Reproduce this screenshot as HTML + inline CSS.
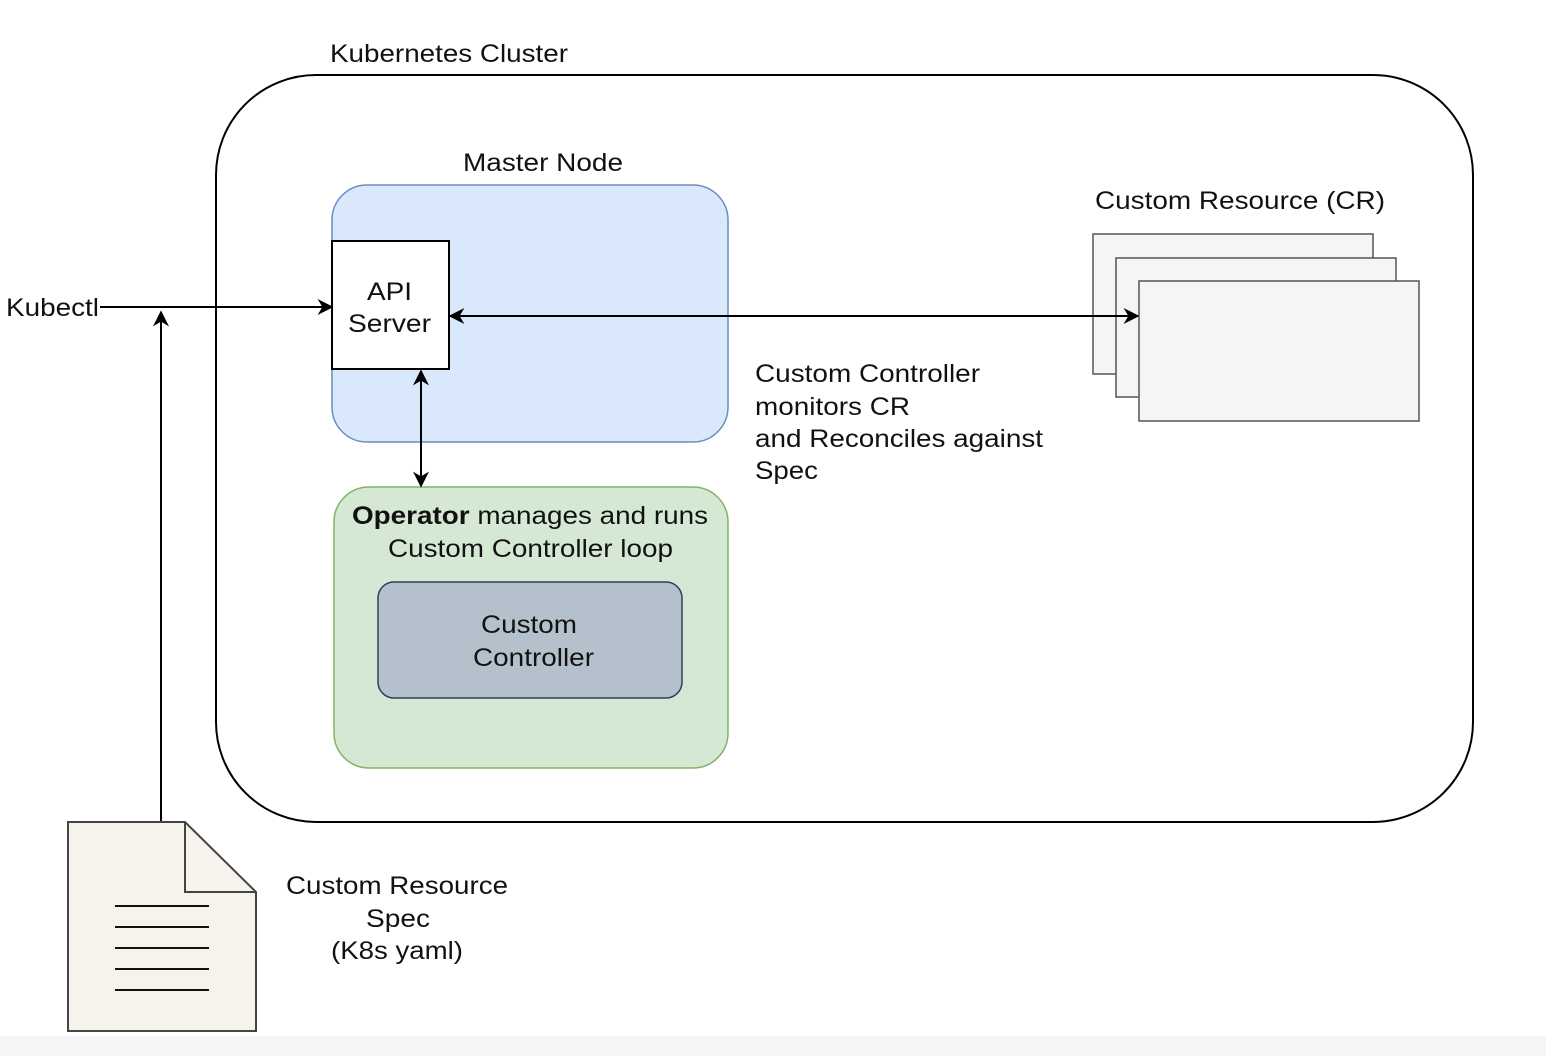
<!DOCTYPE html>
<html><head><style>html,body{margin:0;padding:0;background:#fff}svg{display:block}text{font-family:"Liberation Sans",Arial,sans-serif;font-size:25px;fill:#111}</style></head>
<body>
<svg width="1546" height="1056" viewBox="0 0 1546 1056" xmlns="http://www.w3.org/2000/svg">
<defs>
<marker id="a" viewBox="0 0 10 10" refX="9" refY="5" markerWidth="8" markerHeight="8" orient="auto-start-reverse"><path d="M0,0 L10,5 L0,10 L3,5z" fill="#000"/></marker>
</defs>
<rect x="0" y="1036" width="1546" height="20" fill="#f6f6f6"/>
<text x="330" y="62" textLength="238" lengthAdjust="spacingAndGlyphs">Kubernetes Cluster</text>
<rect x="216" y="75" width="1257" height="747" rx="100" fill="none" stroke="#000" stroke-width="2"/>
<text x="463" y="171" textLength="160" lengthAdjust="spacingAndGlyphs">Master Node</text>
<rect x="332" y="185" width="396" height="257" rx="35" fill="#dae8fc" stroke="#6c8ebf" stroke-width="1.5"/>
<rect x="334" y="487" width="394" height="281" rx="35" fill="#d5e8d4" stroke="#82b366" stroke-width="1.5"/>
<text x="352" y="524" textLength="356" lengthAdjust="spacingAndGlyphs"><tspan font-weight="bold">Operator</tspan> manages and runs</text>
<text x="388" y="557" textLength="285" lengthAdjust="spacingAndGlyphs">Custom Controller loop</text>
<rect x="378" y="582" width="304" height="116" rx="16" fill="#b4c1cc" stroke="#23445d" stroke-width="1.5"/>
<text x="481" y="633" textLength="96" lengthAdjust="spacingAndGlyphs">Custom</text>
<text x="473" y="666" textLength="121" lengthAdjust="spacingAndGlyphs">Controller</text>
<rect x="332" y="241" width="117" height="128" fill="#fff" stroke="#000" stroke-width="2"/>
<text x="367" y="300" textLength="45" lengthAdjust="spacingAndGlyphs">API</text>
<text x="348" y="332" textLength="83" lengthAdjust="spacingAndGlyphs">Server</text>
<text x="1095" y="209" textLength="290" lengthAdjust="spacingAndGlyphs">Custom Resource (CR)</text>
<rect x="1093" y="234" width="280" height="140" fill="#f5f5f5" stroke="#555" stroke-width="1.5"/>
<rect x="1116" y="258" width="280" height="139" fill="#f5f5f5" stroke="#555" stroke-width="1.5"/>
<rect x="1139" y="281" width="280" height="140" fill="#f5f5f5" stroke="#555" stroke-width="1.5"/>
<text x="755" y="382" textLength="225" lengthAdjust="spacingAndGlyphs">Custom Controller</text>
<text x="755" y="415" textLength="155" lengthAdjust="spacingAndGlyphs">monitors CR</text>
<text x="755" y="447" textLength="288" lengthAdjust="spacingAndGlyphs">and Reconciles against</text>
<text x="755" y="479" textLength="63" lengthAdjust="spacingAndGlyphs">Spec</text>
<text x="6" y="316" textLength="93" lengthAdjust="spacingAndGlyphs">Kubectl</text>
<line x1="100" y1="307" x2="332" y2="307" stroke="#000" stroke-width="2" marker-end="url(#a)"/>
<line x1="161" y1="822" x2="161" y2="312" stroke="#000" stroke-width="2" marker-end="url(#a)"/>
<line x1="450" y1="316" x2="1138" y2="316" stroke="#000" stroke-width="2" marker-start="url(#a)" marker-end="url(#a)"/>
<line x1="421" y1="371" x2="421" y2="486" stroke="#000" stroke-width="2" marker-start="url(#a)" marker-end="url(#a)"/>
<path d="M68,822 H185 L256,892 V1031 H68 Z" fill="#f5f3eb" stroke="#444" stroke-width="2"/>
<path d="M185,822 V892 H256" fill="none" stroke="#444" stroke-width="2"/>
<g stroke="#111" stroke-width="2"><line x1="115" y1="906" x2="209" y2="906"/><line x1="115" y1="927" x2="209" y2="927"/><line x1="115" y1="948" x2="209" y2="948"/><line x1="115" y1="969" x2="209" y2="969"/><line x1="115" y1="990" x2="209" y2="990"/></g>
<text x="286" y="894" textLength="222" lengthAdjust="spacingAndGlyphs">Custom Resource</text>
<text x="366" y="927" textLength="64" lengthAdjust="spacingAndGlyphs">Spec</text>
<text x="331" y="959" textLength="132" lengthAdjust="spacingAndGlyphs">(K8s yaml)</text>
</svg>
</body></html>
